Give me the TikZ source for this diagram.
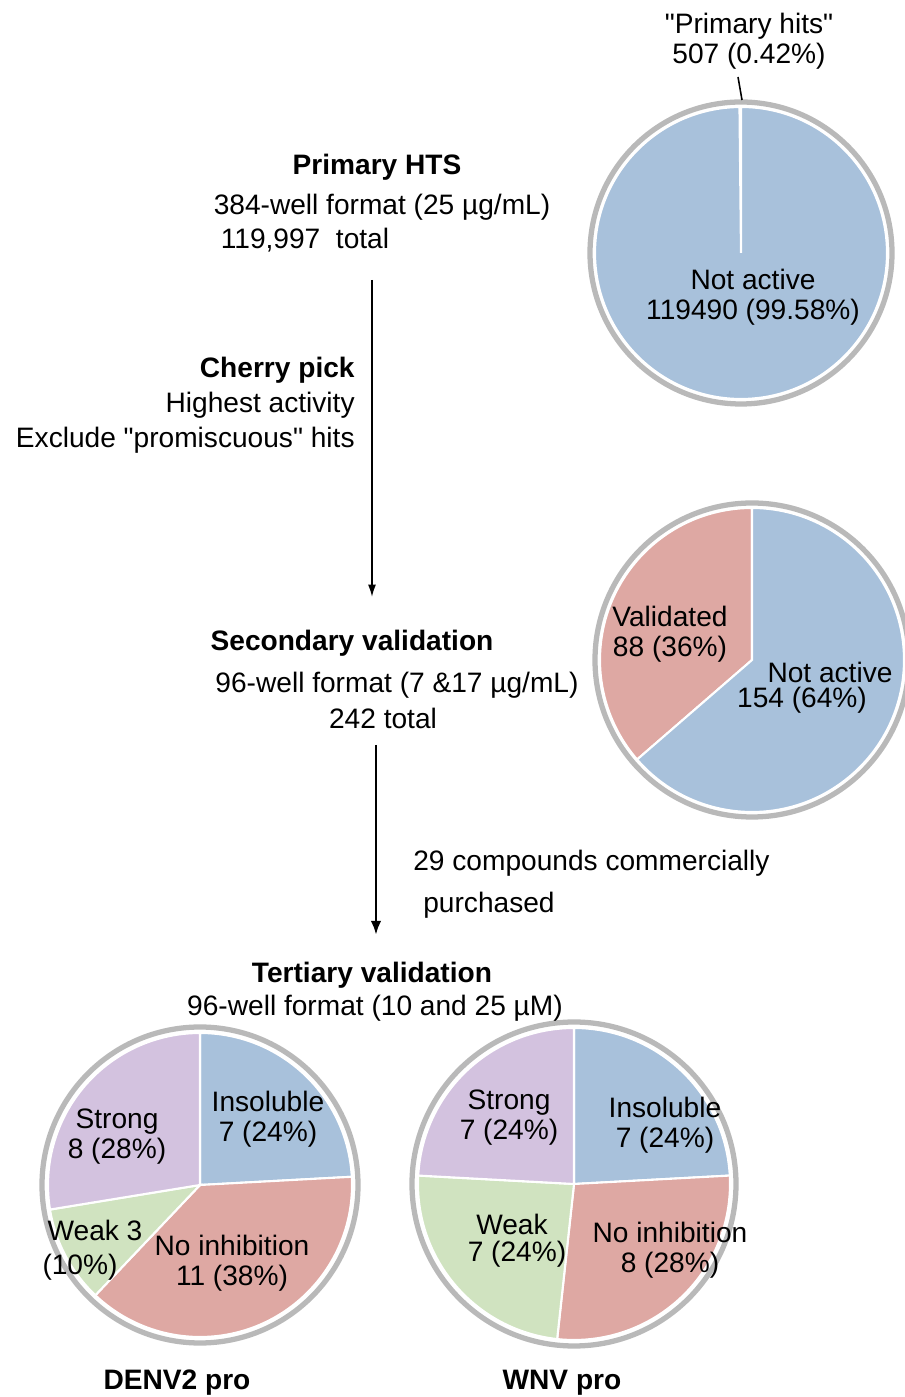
\documentclass[tikz,border=0pt]{standalone}
\usepackage{fontspec}
\setmainfont{Liberation Sans}
\usetikzlibrary{arrows.meta}
\definecolor{pieblue}{RGB}{168,193,219}
\definecolor{piered}{RGB}{222,168,163}
\definecolor{piepurple}{RGB}{211,194,223}
\definecolor{piegreen}{RGB}{208,227,192}
\newcommand{\pieslice}[5]{\filldraw[fill=#5,draw=white,line width=1.2pt] (#1) -- ++(#2:#4) arc[start angle=#2,end angle=#3,radius=#4] -- cycle;}
\newcommand{\pierim}[2]{\draw[gray!55,line width=3pt] (#1) circle (#2);}

\begin{document}
\begin{tikzpicture}[x=0.02cm,y=0.02cm,
	txt/.style={font=\fontsize{16}{17}\selectfont,inner sep=0pt,align=center},
	ttl/.style={txt,font=\fontsize{16}{17}\selectfont\bfseries}]
	\useasboundingbox (0,0) rectangle (904,1397);
	\coordinate (p1) at (741,1144); \coordinate (p2) at (752,737);
	\coordinate (p3) at (200,212); \coordinate (p4) at (574,213);
	\pierim{p1}{151} \pierim{p2}{157} \pierim{p3}{158} \pierim{p4}{162}
	\pieslice{p1}{90}{90.6}{146}{pieblue} \pieslice{p1}{90.6}{450}{146}{pieblue}
	\pieslice{p2}{90}{220.9}{152}{piered} \pieslice{p2}{220.9}{450}{152}{pieblue}
	\pieslice{p3}{90}{3.1}{152}{pieblue} \pieslice{p3}{3.1}{-133.5}{152}{piered}
	\pieslice{p3}{-133.5}{-170.7}{152}{piegreen} \pieslice{p3}{-170.7}{-270}{152}{piepurple}
	\pieslice{p4}{90}{3.1}{156}{pieblue} \pieslice{p4}{3.1}{-96.2}{156}{piered}
	\pieslice{p4}{-96.2}{-183.1}{156}{piegreen} \pieslice{p4}{-183.1}{-270}{156}{piepurple}

	\node[txt] (hits) at (749,1356) {\textquotedbl Primary hits\textquotedbl\\507 (0.42\%)};
	\coordinate (hitsa) at (738,1320); \coordinate (hitsb) at (742,1297);
	\draw[line width=0.9pt] (hitsa) -- (hitsb);
	\node[txt] (na1) at (753,1100) {Not active\\119490 (99.58\%)};
	\node[txt] (val) at (670,763) {Validated\\88 (36\%)};
	\node[txt] (na2) at (830,725) {Not active};
	\node[txt] (na2n) at (802,697) {154 (64\%)};

	\node[txt] (dins) at (268,278) {Insoluble\\7 (24\%)};
	\node[txt] (dstr) at (117,260) {Strong\\8 (28\%)};
	\node[txt] (dweak) at (95,167) {Weak 3};
	\node[txt] (dweakn) at (80,130) {(10\%)};
	\node[txt] (dno) at (232,134) {No inhibition\\11 (38\%)};
	\node[ttl] (denv) at (177,14) {DENV2 pro};

	\node[txt] (wstr) at (509,279) {Strong\\7 (24\%)};
	\node[txt] (wins) at (665,272) {Insoluble\\7 (24\%)};
	\node[txt] (wweak) at (512,173) {Weak};
	\node[txt] (wweakn) at (517,143) {7 (24\%)};
	\node[txt] (wno) at (670,147) {No inhibition\\8 (28\%)};
	\node[ttl] (wnv) at (562,14) {WNV pro};

	\node[ttl] (hts) at (377,1230) {Primary HTS};
	\node[txt] (htsfmt) at (382,1190) {384-well format (25 µg/mL)};
	\node[txt] (htstot) at (305,1157) {119,997\ \ total};
	\node[txt,align=right,anchor=east,font=\fontsize{16}{20}\selectfont] (pick) at (355,992)
		{\textbf{Cherry pick}\\Highest activity\\Exclude \textquotedbl promiscuous\textquotedbl\ hits};
	\node[ttl] (sec) at (352,754) {Secondary validation};
	\node[txt] (secfmt) at (397,712) {96-well format (7 \&17 µg/mL)};
	\node[txt] (sectot) at (383,679) {242 total};
	\node[txt,anchor=west] (buy) at (413,534) {29 compounds commercially};
	\node[txt,anchor=west] (buyb) at (423,492) {purchased};
	\node[ttl] (ter) at (372,422) {Tertiary validation};
	\node[txt] (terfmt) at (375,389) {96-well format (10 and 25 µM)};

	\coordinate (a1s) at (372,1117); \coordinate (a1e) at (372,800);
	\coordinate (a2s) at (376,652); \coordinate (a2e) at (376,462);
	\draw[line width=0.9pt,-{Latex[length=7pt,width=4.5pt]}] (a1s) -- (a1e);
	\draw[line width=1.7pt,-{Latex[length=8pt,width=6pt]}] (a2s) -- (a2e);
\end{tikzpicture}
\end{document}
